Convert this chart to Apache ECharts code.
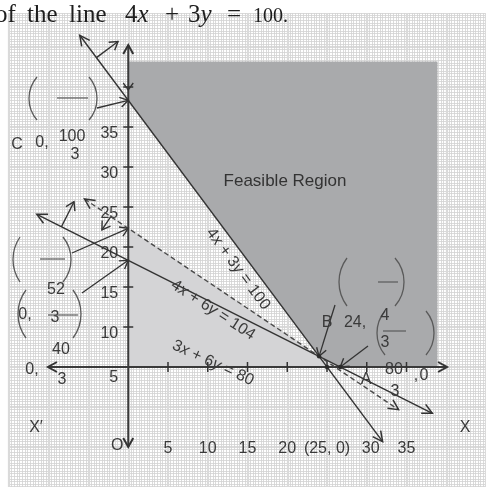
<!DOCTYPE html>
<html>
<head>
<meta charset="utf-8">
<script src="https://cdn.jsdelivr.net/npm/echarts@6/dist/echarts.min.js"></script>
<style>
  html, body { margin: 0; padding: 0; background: #fff; }
  #chart { width: 486px; height: 487px; }
</style>
</head>
<body>
<div id="chart"></div>
<script>
// ---- Constraint lines  a·x + b·y = c ----
const lineA = [4, 4, 3];
const lineB = [3, 6, 6];
const lineC = [100, 104, 80];
const lineXStart = [-6.1, -5.5, -11.5];   // where each drawn line begins (x)
const lineXEnd = [32, 34, 38.25];         // where each drawn line ends (x)
const lineCaptions = ['4x + 3y = 100', '4x + 6y = 104', '3x + 6y = 80'];

// ---- Corner points of the feasible region ----
const cornerNames = ['C', 'B', 'A'];
const cornerX = [0, 24, 80 / 3];
const cornerY = [100 / 3, 4 / 3, 0];

// ---- Outer extent of the shaded feasible region ----
const regionTop = 38.2;
const regionRight = 38.9;

// ---- Axes ----
const xTicks = [5, 10, 15, 20, 25, 30, 35];
const xTickLabels = ['5', '10', '15', '20', '(25, 0)', '30', '35'];
const yTicks = [5, 10, 15, 20, 25, 30, 35];
const yTickLabels = ['5', '10', '15', '20', '25', '30', '35'];
const yTickLabelAt = [0, 5, 10, 15, 20, 25, 30];
const xAxisExtent = [-10.1, 40.1];
const yAxisExtent = [-10, 40.25];

// ---- Half-plane hint arrows (one per line): start x on the line, side of the line ----
const hintX = [-4, -2.2, -8.4];
const hintSide = [1, -1, 1];

const INK = '#333';
const TEXT = '#3a3a3a';
const SANS = '"Liberation Sans", Arial, sans-serif';
const SERIF = '"Liberation Serif", "Times New Roman", serif';

const lineY = (i, x) => (lineC[i] - lineA[i] * x) / lineB[i];

// open "V" arrowhead whose tip is at `tip`, coming from `from`
function chevron(tip, from, len, half, style) {
  const dx = tip[0] - from[0], dy = tip[1] - from[1];
  const d = Math.hypot(dx, dy) || 1;
  const ux = dx / d, uy = dy / d;
  const bx = tip[0] - ux * len, by = tip[1] - uy * len;
  return {
    type: 'polyline',
    shape: { points: [[bx - uy * half, by + ux * half], [tip[0], tip[1]], [bx + uy * half, by - ux * half]] },
    style: Object.assign({ stroke: INK, lineWidth: 1.5, fill: 'none' }, style || {})
  };
}
function seg(p, q, style) {
  return { type: 'line', shape: { x1: p[0], y1: p[1], x2: q[0], y2: q[1] },
    style: Object.assign({ stroke: INK, lineWidth: 1.5 }, style || {}) };
}
function label(text, x, y, opt) {
  opt = opt || {};
  const align = opt.align || 'center';
  const va = opt.va || 'middle';
  return {
    type: 'text', x, y, rotation: opt.rot || 0, z: opt.z || 50,
    style: {
      text, fill: opt.fill || TEXT, font: opt.font || ('16px ' + SANS),
      align, textAlign: align, verticalAlign: va, textVerticalAlign: va,
      rich: opt.rich
    }
  };
}
// thin bracket drawn as a circular arc
function paren(side, xEdge, top, bottom, sag) {
  sag = sag || 8;
  const h = (bottom - top) / 2;
  const r = (h * h + sag * sag) / (2 * sag);
  const a = Math.asin(Math.min(1, h / r));
  const cy = (top + bottom) / 2;
  const cx = side === '(' ? xEdge + r : xEdge - r;
  const ang = side === '(' ? [Math.PI - a, Math.PI + a] : [-a, a];
  return { type: 'arc', z: 50,
    shape: { cx, cy, r, startAngle: ang[0], endAngle: ang[1], clockwise: true },
    style: { stroke: '#5a5a5a', lineWidth: 1.3, fill: null } };
}
function bar(x1, x2, y) {
  return { type: 'line', z: 50, shape: { x1, y1: y, x2, y2: y }, style: { stroke: '#5a5a5a', lineWidth: 1.2 } };
}
const mathRich = { i: { fontStyle: 'italic', font: 'italic 16px ' + SANS, fill: TEXT } };
const mathText = s => s.replace(/([xy])/g, '{i|$1}');
const titleFont = '25px ' + SERIF;
const titleRich = { i: { font: 'italic 25px ' + SERIF, fill: '#1e1e1e' } };
const titleWord = (s, x) => label(s, x, 15, { align: 'left', font: titleFont, fill: '#1e1e1e', z: 60, rich: titleRich });

const chart = echarts.init(document.getElementById('chart'), null, { renderer: 'canvas' });

// graph-paper background: broad lines every 5 units, fine lines in between
const graphPaperX = {
  type: 'value', min: -15, max: 45, interval: 5,
  axisLine: { show: false }, axisTick: { show: false }, axisLabel: { show: false },
  splitLine: { show: true, lineStyle: { color: '#dadada', width: 2.2 } },
  minorTick: { show: false, splitNumber: 15 },
  minorSplitLine: { show: true, lineStyle: { color: '#d2d2d2', width: 0.8 } }
};
const graphPaperY = Object.assign({}, graphPaperX, { min: -15, max: 44.25 });

const option = {
  animation: false,
  backgroundColor: '#fff',
  grid: { left: 9, top: 13, width: 480, height: 474, containLabel: false },
  xAxis: graphPaperX,
  yAxis: graphPaperY,
  series: [
    // shaded regions
    {
      type: 'custom', coordinateSystem: 'cartesian2d', clip: false, z: 2,
      data: [[0, 0]],
      renderItem: (params, api) => {
        const c = p => api.coord(p);
        const light = [[0, 0], [0, lineC[1] / lineB[1]], [cornerX[1], cornerY[1]], [lineC[1] / lineA[1], 0]].map(c);
        const dark = [[0, regionTop], [cornerX[0], cornerY[0]], [cornerX[1], cornerY[1]],
          [cornerX[2], cornerY[2]], [regionRight, 0], [regionRight, regionTop]].map(c);
        return { type: 'group', children: [
          { type: 'polygon', shape: { points: light }, style: { fill: '#d4d4d6' } },
          { type: 'polygon', shape: { points: dark }, style: { fill: '#a9aaac' } }
        ] };
      }
    },
    // coordinate axes with arrows and ticks
    {
      type: 'custom', coordinateSystem: 'cartesian2d', clip: false, z: 4,
      data: [[0, 0]],
      renderItem: (params, api) => {
        const ch = [];
        const yb = api.coord([0, yAxisExtent[0]]), yt = api.coord([0, yAxisExtent[1]]);
        const xl = api.coord([xAxisExtent[0], 0]), xr = api.coord([xAxisExtent[1], 0]);
        const axisStyle = { lineWidth: 2, stroke: '#3a3a3a' };
        ch.push(seg(yb, yt, axisStyle), seg(xl, xr, axisStyle));
        ch.push(chevron(yt, yb, 9, 5, { lineWidth: 2 }), chevron(yb, yt, 9, 5, { lineWidth: 2 }));
        ch.push(chevron(xl, xr, 9, 5, { lineWidth: 2 }), chevron(xr, xl, 9, 5, { lineWidth: 2 }));
        yTicks.forEach(t => {
          const p = api.coord([0, t]);
          ch.push(seg([p[0] - 5, p[1]], [p[0] + 5, p[1]], { lineWidth: 1.5 }));
        });
        // small down-pointing mark at the top tick
        const top = api.coord([0, yTicks[yTicks.length - 1]]);
        ch.push(chevron([top[0], top[1] + 3], [top[0], top[1] - 10], 7, 5, { lineWidth: 1.3 }));
        xTicks.forEach(t => {
          const p = api.coord([t, 0]);
          ch.push(seg([p[0], p[1] - 5], [p[0], p[1] + 5], { lineWidth: 1.5 }));
        });
        yTickLabels.forEach((s, k) => {
          const p = api.coord([0, yTickLabelAt[k]]);
          ch.push(label(s, p[0] - 10, p[1] + (k === 0 ? 11 : 7), { align: 'right' }));
        });
        xTickLabels.forEach((s, k) => {
          const p = api.coord([xTicks[k], yAxisExtent[0]]);
          ch.push(label(s, p[0] + (k === 5 ? 4 : 0), p[1] + 2));
        });
        ch.push(label('O', yb[0] - 11, yb[1] - 1));
        return { type: 'group', children: ch };
      }
    },
    // the three constraint lines
    {
      type: 'custom', coordinateSystem: 'cartesian2d', clip: false, z: 5,
      data: lineA.map((_, i) => [i, 0]),
      renderItem: (params, api) => {
        const i = params.dataIndex;
        const p0 = api.coord([lineXStart[i], lineY(i, lineXStart[i])]);
        const p1 = api.coord([lineXEnd[i], lineY(i, lineXEnd[i])]);
        const dashed = i === 1;
        const st = { lineWidth: 1.4, stroke: dashed ? '#4a4a4a' : INK, lineDash: dashed ? [5, 3] : null };
        return { type: 'group', children: [
          seg(p0, p1, st),
          chevron(p0, p1, 10, 5, { lineWidth: 1.5 }),
          chevron(p1, p0, 10, 5, { lineWidth: 1.5 })
        ] };
      }
    },
    // half-plane hints, leaders to the labelled points, point dots
    {
      type: 'custom', coordinateSystem: 'cartesian2d', clip: false, z: 6,
      data: [[0, 0]],
      renderItem: (params, api) => {
        const ch = [];
        const hintLen = [27, 16, 28];
        hintX.forEach((x, i) => {
          const p = api.coord([x, lineY(i, x)]);
          const nx = lineA[i] * hintSide[i], ny = -lineB[i] * hintSide[i];
          const n = Math.hypot(nx, ny);
          const q = [p[0] + nx / n * hintLen[i], p[1] + ny / n * hintLen[i]];
          ch.push(seg(p, q, { lineWidth: 1.4 }), chevron(q, p, 8, 5, { lineWidth: 1.4 }));
        });
        const leaders = [
          [[97, 108], [cornerX[0], cornerY[0]]],
          [[72, 253], [0, lineC[1] / lineB[1]]],
          [[82, 293], [0, lineC[2] / lineB[2]]],
          [[335, 305], [cornerX[1], cornerY[1]]],
          [[368, 346], [cornerX[2], cornerY[2]]]
        ];
        leaders.forEach(([from, to]) => {
          const q = api.coord(to);
          ch.push(seg(from, q, { lineWidth: 1.3 }), chevron(q, from, 8, 5, { lineWidth: 1.4 }));
        });
        [[cornerX[1], cornerY[1]], [cornerX[2], cornerY[2]], [lineC[0] / lineA[0], 0]].forEach(pt => {
          const p = api.coord(pt);
          ch.push({ type: 'circle', shape: { cx: p[0], cy: p[1], r: 2.2 }, style: { fill: '#2a2a2a' } });
        });
        return { type: 'group', children: ch };
      }
    }
  ],
  graphic: [
    // heading line of text
    { type: 'rect', shape: { x: 0, y: 0, width: 486, height: 13 }, style: { fill: '#fff' }, z: 40 },
    titleWord('of', -5), titleWord('the', 27), titleWord('line', 69),
    titleWord('4{i|x}', 125), titleWord('+', 165), titleWord('3{i|y}', 188), titleWord('=', 227),
    label('100.', 253, 17, { align: 'left', font: '20px ' + SERIF, fill: '#1e1e1e', z: 60 }),

    label('Feasible Region', 285, 181, { font: '17px ' + SANS, fill: '#333' }),

    // captions along the lines
    label(mathText(lineCaptions[0]), 238, 269, { rot: -53.7 * Math.PI / 180, rich: mathRich }),
    label(mathText(lineCaptions[1]), 213, 310, { rot: -33 * Math.PI / 180, rich: mathRich }),
    label(mathText(lineCaptions[2]), 213, 363, { rot: -25 * Math.PI / 180, rich: mathRich }),

    // C (0, 100/3)
    paren('(', 29, 77, 120, 8), paren(')', 97, 77, 120, 8), bar(57, 88, 98),
    label(cornerNames[0], 17, 145), label('0,', 42, 143), label('100', 72, 137), label('3', 75, 155),

    // (0, 52/3) and (0, 40/3)
    paren('(', 13, 237, 282, 7), paren(')', 71, 237, 282, 8), bar(40, 65, 259),
    paren('(', 18, 290, 338, 8), paren(')', 81, 290, 338, 8),
    label('52', 56, 290), label('0,', 25, 315), label('3', 55, 318), bar(48, 78, 315),
    label('40', 61, 350), label('0,', 32, 370), label('3', 62, 380),

    // B (24, 4/3)
    paren('(', 339, 258, 306, 8), paren(')', 404, 258, 306, 9), bar(378, 398, 282),
    paren('(', 377, 311, 355, 8), paren(')', 434, 311, 355, 8), bar(383, 406, 331),
    label(cornerNames[1], 327, 323), label('24,', 355, 323), label('4', 385, 316), label('3', 385, 343),

    // A (80/3, 0)
    label(cornerNames[2], 366, 380), label('80', 394, 370), label(',', 416, 376), label('0', 424, 376), label('3', 395, 392),

    // axis names
    label('X′', 36, 428), label('X', 465, 428)
  ]
};
chart.setOption(option);
</script>
</body>
</html>
